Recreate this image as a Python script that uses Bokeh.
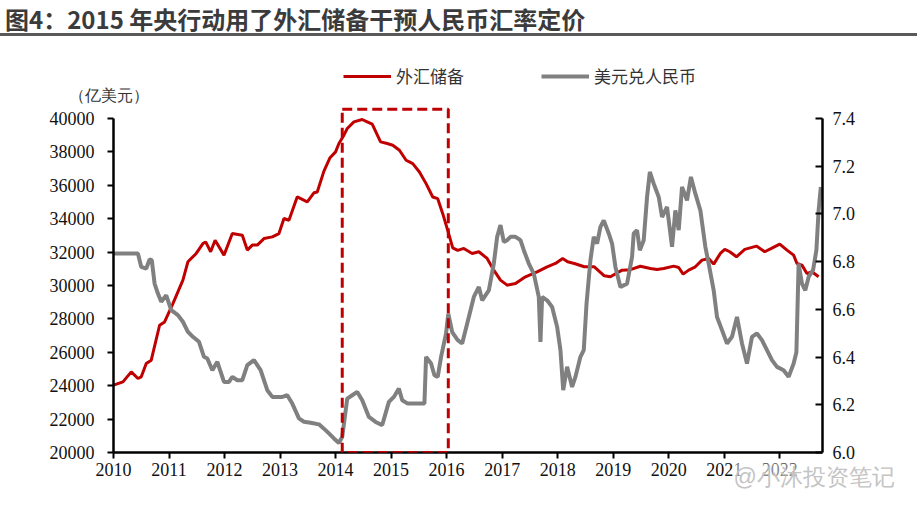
from bokeh.plotting import figure
from bokeh.layouts import column
from bokeh.models import (LinearAxis, Range1d, FixedTicker, Label, BoxAnnotation,
                          Legend, LegendItem, NumeralTickFormatter, Div)
from bokeh.embed import file_html
from bokeh.resources import INLINE

# ---------------- data ----------------
reserve_t = [2010.00, 2010.17, 2010.32, 2010.44, 2010.50, 2010.59, 2010.68, 2010.83, 2010.92,
             2011.07, 2011.25, 2011.34, 2011.49, 2011.61, 2011.66, 2011.75, 2011.83, 2011.99,
             2012.14, 2012.32, 2012.41, 2012.50, 2012.59, 2012.71, 2012.86, 2012.98,
             2013.07, 2013.16, 2013.31, 2013.49, 2013.61, 2013.67, 2013.79, 2013.90,
             2014.00, 2014.06, 2014.15, 2014.21, 2014.33, 2014.48, 2014.57, 2014.66, 2014.81, 2014.93,
             2015.03, 2015.15, 2015.27, 2015.33, 2015.39, 2015.51, 2015.63, 2015.75, 2015.84, 2015.93,
             2016.02, 2016.11, 2016.20, 2016.31, 2016.46, 2016.58, 2016.73, 2016.85, 2016.97,
             2017.09, 2017.24, 2017.42, 2017.63, 2017.81, 2017.96,
             2018.09, 2018.18, 2018.30, 2018.48, 2018.66, 2018.84, 2018.95,
             2019.16, 2019.31, 2019.49, 2019.67, 2019.79, 2019.91,
             2020.09, 2020.18, 2020.26, 2020.36, 2020.48, 2020.60, 2020.72, 2020.81, 2020.93,
             2021.01, 2021.10, 2021.22, 2021.37, 2021.58, 2021.73, 2021.85,
             2022.00, 2022.13, 2022.25, 2022.31, 2022.40, 2022.49, 2022.58, 2022.70]
reserve_v = [24030, 24230, 24830, 24430, 24530, 25330, 25530, 27620, 27820,
             28920, 30320, 31420, 31920, 32510, 32610, 32020, 32710, 31820,
             33110, 33010, 32120, 32420, 32420, 32810, 32910, 33110,
             34010, 33910, 35310, 35010, 35550, 35600, 36850, 37650,
             38000, 38500, 39000, 39400, 39800, 39940, 39800, 39660, 38600, 38500,
             38400, 38100, 37500, 37400, 37300, 36800, 36100, 35300, 35200, 34300,
             33300, 32250, 32100, 32220, 31920, 32020, 31620, 30920, 30320,
             30020, 30120, 30520, 30820, 31120, 31320,
             31620, 31420, 31320, 31120, 31120, 30580, 30520,
             30920, 30950, 31150, 31020, 30960, 31020,
             31160, 31080, 30680, 30920, 31120, 31520, 31620, 31280, 31920,
             32160, 32020, 31720, 32160, 32360, 32020, 32220,
             32480, 32120, 31820, 31320, 31220, 30720, 30820, 30520]

fx_t = [2010.00, 2010.44, 2010.50, 2010.59, 2010.65, 2010.69, 2010.74, 2010.80, 2010.86, 2010.95,
        2011.04, 2011.16, 2011.25, 2011.34, 2011.43, 2011.54, 2011.63, 2011.69, 2011.78, 2011.87,
        2011.93, 2011.99, 2012.08, 2012.14, 2012.23, 2012.32, 2012.41, 2012.53, 2012.65, 2012.77,
        2012.86, 2012.95, 2013.04, 2013.13, 2013.22, 2013.34, 2013.43, 2013.55, 2013.70, 2013.79,
        2013.88, 2013.97, 2014.06, 2014.12, 2014.21, 2014.30, 2014.39, 2014.48, 2014.60, 2014.72,
        2014.84, 2014.96, 2015.05, 2015.14, 2015.20, 2015.30, 2015.42, 2015.60, 2015.63, 2015.72,
        2015.78, 2015.84, 2015.90, 2015.99, 2016.03, 2016.10, 2016.20, 2016.28, 2016.40, 2016.49,
        2016.58, 2016.64, 2016.76, 2016.85, 2016.91, 2016.97, 2017.03, 2017.09, 2017.15, 2017.24,
        2017.33, 2017.39, 2017.48, 2017.57, 2017.66, 2017.69, 2017.72, 2017.81, 2017.90, 2017.99,
        2018.05, 2018.10, 2018.17, 2018.26, 2018.32, 2018.41, 2018.47, 2018.52, 2018.59, 2018.65,
        2018.71, 2018.77, 2018.83, 2018.92, 2018.98, 2019.04, 2019.13, 2019.25, 2019.34, 2019.37,
        2019.43, 2019.48, 2019.55, 2019.61, 2019.66, 2019.73, 2019.82, 2019.88, 2019.97, 2020.06,
        2020.12, 2020.18, 2020.24, 2020.33, 2020.40, 2020.48, 2020.57, 2020.66, 2020.72, 2020.81,
        2020.87, 2020.96, 2021.05, 2021.14, 2021.23, 2021.32, 2021.41, 2021.50, 2021.59, 2021.68,
        2021.77, 2021.86, 2021.95, 2022.07, 2022.16, 2022.25, 2022.30, 2022.34, 2022.40, 2022.46,
        2022.52, 2022.60, 2022.66, 2022.70, 2022.74]
fx_v = [6.834, 6.834, 6.778, 6.771, 6.809, 6.806, 6.708, 6.666, 6.632, 6.659,
        6.597, 6.576, 6.548, 6.506, 6.485, 6.464, 6.401, 6.394, 6.345, 6.380,
        6.338, 6.296, 6.296, 6.317, 6.303, 6.303, 6.366, 6.387, 6.345, 6.261,
        6.233, 6.233, 6.233, 6.240, 6.205, 6.143, 6.129, 6.125, 6.118, 6.100,
        6.080, 6.059, 6.040, 6.066, 6.226, 6.240, 6.254, 6.219, 6.149, 6.128,
        6.115, 6.212, 6.233, 6.268, 6.219, 6.205, 6.205, 6.205, 6.401, 6.373,
        6.324, 6.317, 6.401, 6.499, 6.582, 6.505, 6.471, 6.457, 6.568, 6.652,
        6.694, 6.638, 6.680, 6.792, 6.904, 6.953, 6.883, 6.890, 6.904, 6.904,
        6.890, 6.848, 6.792, 6.750, 6.652, 6.464, 6.652, 6.638, 6.610, 6.527,
        6.429, 6.261, 6.359, 6.275, 6.317, 6.401, 6.429, 6.624, 6.806, 6.904,
        6.876, 6.946, 6.973, 6.918, 6.876, 6.778, 6.694, 6.708, 6.820, 6.918,
        6.932, 6.848, 6.890, 7.071, 7.176, 7.127, 7.071, 6.987, 7.029, 6.862,
        7.015, 6.932, 7.113, 7.057, 7.155, 7.085, 7.015, 6.862, 6.792, 6.680,
        6.568, 6.513, 6.457, 6.485, 6.568, 6.457, 6.373, 6.485, 6.499, 6.471,
        6.429, 6.387, 6.359, 6.345, 6.317, 6.373, 6.420, 6.792, 6.708, 6.680,
        6.736, 6.764, 6.848, 7.015, 7.113]

years = list(range(2010, 2023))
left_ticks = list(range(20000, 40001, 2000))
right_ticks = [6.0, 6.2, 6.4, 6.6, 6.8, 7.0, 7.2, 7.4]
left_bounds = (20000, 40000)
right_bounds = (6.0, 7.4)
box_x = [2014.12, 2016.03]
box_y = [20000, 40550]

title_text = "图4：2015 年央行动用了外汇储备干预人民币汇率定价"
unit_text = "（亿美元）"
series_names = ["外汇储备", "美元兑人民币"]
watermark = "@小沐投资笔记"

RED = "#C00000"
GRAY = "#808080"

# ---------------- layout constants (page pixels) ----------------
W, H = 917, 509
HEAD = 40                       # height of the title strip (HTML)
PH = H - HEAD                   # figure height
FL, FR = 113, 822               # frame left / right
FB = 452 - HEAD                 # frame bottom (figure coords)
FT = 18                         # frame top (figure coords)
AXIS_TOP = 118 - HEAD           # where 40000 / 7.4 sit (figure coords)

def extended_top(lo, hi):
    return lo + (hi - lo) * (FB - FT) / (FB - AXIS_TOP)

head = Div(text=('<div style="width:917px;height:33px;border-bottom:3px solid #595959;'
                 'padding-left:5px;box-sizing:content-box;white-space:nowrap;'
                 'font-family:\'Noto Sans CJK SC\';font-weight:bold;font-size:24px;'
                 'line-height:38px;color:#3b3b3b;">' + title_text + '</div>'),
           width=W, height=HEAD, margin=0)

p = figure(width=W, height=PH, output_backend="svg", toolbar_location=None,
           x_range=Range1d(2010, 2022.77),
           y_range=Range1d(left_bounds[0], extended_top(*left_bounds)),
           min_border_left=FL, min_border_right=W - FR,
           min_border_top=FT, min_border_bottom=PH - FB, margin=0)
p.title.visible = False
p.extra_y_ranges = {"fx": Range1d(right_bounds[0], extended_top(*right_bounds))}
p.xgrid.visible = False
p.ygrid.visible = False
p.outline_line_color = None
p.background_fill_color = "white"
p.border_fill_color = "white"

r_red = p.line(reserve_t, reserve_v, line_color=RED, line_width=3)
r_gray = p.line(fx_t, fx_v, line_color=GRAY, line_width=4, y_range_name="fx")

right = LinearAxis(y_range_name="fx")
p.add_layout(right, "right")

xa = p.xaxis[0]
ya = p.yaxis[0]
for ax in (xa, ya, right):
    ax.axis_line_width = 2.5
    ax.axis_line_color = "black"
    ax.major_tick_line_width = 2
    ax.major_tick_line_color = "black"
    ax.minor_tick_line_color = None
    ax.major_label_text_font = "Liberation Serif"
    ax.major_label_text_font_size = "18px"
    ax.major_label_text_color = "#111111"

xa.ticker = FixedTicker(ticks=years)
xa.major_tick_out = 6
xa.major_tick_in = 0
xa.major_label_standoff = 4

ya.ticker = FixedTicker(ticks=left_ticks)
ya.bounds = left_bounds
ya.major_tick_out = 6
ya.major_tick_in = 0
ya.major_label_standoff = 13

right.ticker = FixedTicker(ticks=right_ticks)
right.bounds = right_bounds
right.formatter = NumeralTickFormatter(format="0.0")
right.major_tick_out = 0
right.major_tick_in = 7
right.major_label_standoff = 10

# dashed highlight box
p.add_layout(BoxAnnotation(left=box_x[0], right=box_x[1], bottom=box_y[0], top=box_y[1],
                           fill_alpha=0, line_color=RED, line_width=3, line_dash="10 5",
                           line_alpha=1))

# legend inside the (extended) frame, above the axes' top
legend = Legend(items=[LegendItem(label=series_names[0], renderers=[r_red]),
                       LegendItem(label=series_names[1], renderers=[r_gray])],
                orientation="horizontal", location=(230, 364),
                border_line_color=None, background_fill_alpha=0,
                glyph_width=48, glyph_height=20, label_standoff=5, spacing=77,
                padding=0, margin=0,
                label_text_font="Noto Sans CJK SC", label_text_font_size="17px",
                label_text_color="#333333")
p.add_layout(legend, "center")

# unit label: side panel above the frame (not clipped); coords relative to frame top-left
p.add_layout(Label(x=68 - FL, y=FT - (95 - HEAD), x_units="screen", y_units="screen",
                   text=unit_text, text_font="Liberation Sans", text_font_size="16px",
                   text_color="#333333", text_baseline="middle"), "above")

# watermark: side panel below the x axis
p.add_layout(Label(x=733 - FL, y=28, x_units="screen", y_units="screen",
                   text=watermark, text_font="Liberation Sans", text_font_size="23px",
                   text_color="#c4c4c4", text_baseline="middle",
                   background_fill_color="white", background_fill_alpha=0.5), "below")

layout = column(head, p, spacing=0)
open("out.html", "w").write(file_html(layout, INLINE))
